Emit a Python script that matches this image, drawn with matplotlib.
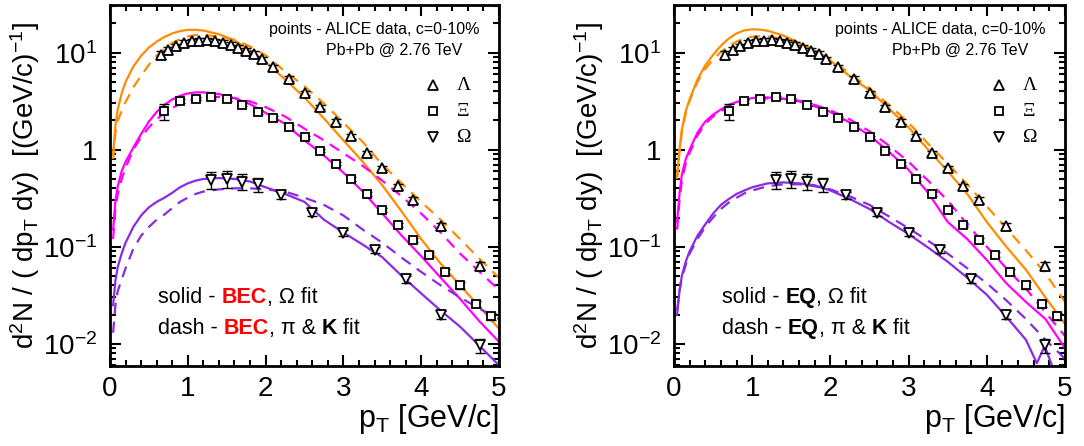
import matplotlib
matplotlib.use("Agg")
import matplotlib.pyplot as plt
from matplotlib.ticker import FixedLocator, FixedFormatter, LogLocator, NullFormatter, MultipleLocator

plt.rcParams['font.family'] = ['Liberation Sans', 'DejaVu Sans']
plt.rcParams['mathtext.fontset'] = 'custom'
plt.rcParams['mathtext.rm'] = 'Liberation Sans'
plt.rcParams['mathtext.it'] = 'Liberation Sans:italic'
plt.rcParams['mathtext.bf'] = 'Liberation Sans:bold'

# ---------------- data (ALICE points) ----------------
lam_x = [0.65, 0.75, 0.85, 0.95, 1.05, 1.15, 1.25, 1.35, 1.45, 1.55, 1.65, 1.75, 1.85, 1.95,
         2.1, 2.3, 2.5, 2.7, 2.9, 3.1, 3.3, 3.5, 3.7, 3.9, 4.25, 4.75]
lam_y = [9.5, 10.6, 11.6, 12.6, 13.1, 13.3, 13.4, 13.1, 12.6, 12.1, 11.2, 10.5, 9.8, 8.6,
         7.1, 5.4, 3.85, 2.75, 1.95, 1.37, 0.93, 0.65, 0.42, 0.305, 0.162, 0.063]
lam_err = [0.9, 0.8, 0.8, 0.8, 0.8, 0.8, 0.8, 0.8, 0.8, 0.7, 0.7, 0.6, 0.6, 0.5,
           0.4, 0.3, 0.2, 0.15, 0.1, 0.07, 0.05, 0.035, 0.025, 0.02, 0.012, 0.006]

xi_x = [0.7, 0.9, 1.1, 1.3, 1.5, 1.7, 1.9, 2.1, 2.3, 2.5, 2.7, 2.9, 3.1, 3.3, 3.5, 3.7,
        3.9, 4.1, 4.3, 4.5, 4.7, 4.9]
xi_y = [2.48, 3.15, 3.36, 3.46, 3.33, 2.91, 2.45, 2.12, 1.71, 1.35, 0.98, 0.72, 0.50, 0.35,
        0.24, 0.166, 0.118, 0.083, 0.055, 0.040, 0.0257, 0.0191]
xi_err = [0.45, 0.15, 0.12, 0.12, 0.12, 0.1, 0.09, 0.08, 0.07, 0.05, 0.04, 0.03, 0.02, 0.015,
          0.01, 0.008, 0.006, 0.005, 0.004, 0.003, 0.002, 0.0015]

om_x = [1.3, 1.5, 1.7, 1.9, 2.2, 2.6, 3.0, 3.4, 3.8, 4.25, 4.75]
om_y = [0.49, 0.50, 0.47, 0.44, 0.34, 0.222, 0.138, 0.093, 0.046, 0.0199, 0.0096]
om_err = [0.1, 0.1, 0.09, 0.07, 0.03, 0.015, 0.01, 0.006, 0.004, 0.002, 0.0015]

# ---------------- model curves ----------------
curve_x = [0.04, 0.07, 0.1, 0.15, 0.2, 0.3, 0.4, 0.5, 0.6, 0.7, 0.8, 0.9, 1.0, 1.1, 1.2,
           1.4, 1.6, 1.8, 2.0, 2.25, 2.5, 2.75, 3.0, 3.25, 3.5, 3.75, 4.0, 4.25, 4.5, 4.75, 5.0]

# left panel: BEC
bec_lam_solid = [0.9, 1.8, 2.6, 3.8, 5.0, 7.2, 9.3, 11.3, 13.0, 14.5, 15.8, 16.7, 17.2, 17.2, 16.9,
                 15.5, 13.4, 10.6, 8.0, 5.3, 3.45, 2.1, 1.25, 0.75, 0.43, 0.23, 0.12, 0.067, 0.04, 0.024, 0.0143]
bec_lam_dash = [0.8, 1.5, 2.0, 2.5, 3.1, 4.4, 5.8, 7.5, 9.3, 11.0, 12.6, 13.8, 14.7, 15.2, 15.3,
                14.6, 13.6, 11.6, 9.4, 6.4, 4.5, 3.0, 1.9, 1.2, 0.7, 0.45, 0.29, 0.19, 0.12, 0.075, 0.048]
bec_xi_solid = [0.15, 0.3, 0.42, 0.6, 0.75, 1.05, 1.45, 1.95, 2.45, 2.9, 3.3, 3.6, 3.8, 3.9, 3.9,
                3.75, 3.4, 2.95, 2.4, 1.85, 1.25, 0.87, 0.58, 0.37, 0.22, 0.13, 0.08, 0.048, 0.029, 0.017, 0.0105]
bec_xi_dash = [0.12, 0.25, 0.35, 0.5, 0.65, 1.0, 1.35, 1.7, 2.05, 2.4, 2.7, 2.95, 3.15, 3.35, 3.45,
               3.5, 3.4, 3.15, 2.75, 2.2, 1.65, 1.25, 0.92, 0.68, 0.48, 0.33, 0.22, 0.14, 0.085, 0.055, 0.036]
bec_om_solid = [0.025, 0.045, 0.062, 0.085, 0.11, 0.16, 0.21, 0.255, 0.29, 0.32, 0.36, 0.41, 0.45, 0.48, 0.5,
                0.51, 0.5, 0.47, 0.41, 0.35, 0.29, 0.19, 0.14, 0.105, 0.078, 0.05, 0.033, 0.022, 0.015, 0.0095, 0.006]
bec_om_dash = [0.013, 0.025, 0.035, 0.046, 0.06, 0.095, 0.13, 0.16, 0.19, 0.215, 0.25, 0.29, 0.32, 0.35, 0.37,
               0.39, 0.40, 0.40, 0.39, 0.37, 0.32, 0.27, 0.21, 0.15, 0.11, 0.077, 0.055, 0.04, 0.03, 0.023, 0.018]

# right panel: EQ
eq_lam_solid = [0.55, 1.0, 1.6, 2.5, 3.3, 5.3, 7.4, 9.5, 11.8, 14.0, 15.8, 17.0, 17.4, 17.3, 16.8,
                15.0, 12.6, 10.5, 8.3, 5.7, 4.1, 2.65, 1.7, 1.0, 0.6, 0.35, 0.18, 0.1, 0.058, 0.03, 0.016]
eq_lam_dash = [0.5, 0.95, 1.5, 2.4, 3.2, 5.0, 6.8, 8.5, 10.2, 11.7, 13.0, 14.0, 14.6, 14.8, 14.7,
               13.8, 12.2, 10.5, 8.5, 6.1, 4.3, 2.9, 1.9, 1.15, 0.72, 0.44, 0.26, 0.155, 0.092, 0.053, 0.027]
eq_xi_solid = [0.18, 0.35, 0.55, 0.8, 1.0, 1.5, 1.95, 2.3, 2.6, 2.9, 3.1, 3.3, 3.4, 3.45, 3.45,
               3.35, 3.15, 2.8, 2.45, 1.9, 1.4, 0.95, 0.62, 0.36, 0.18, 0.12, 0.073, 0.042, 0.027, 0.018, 0.009]
eq_xi_dash = [0.15, 0.3, 0.48, 0.72, 0.93, 1.4, 1.85, 2.2, 2.5, 2.75, 3.0, 3.15, 3.25, 3.35, 3.38,
              3.35, 3.2, 2.9, 2.55, 2.05, 1.55, 1.1, 0.75, 0.48, 0.3, 0.17, 0.1, 0.06, 0.037, 0.021, 0.012]
eq_om_solid_x = [0.04, 0.07, 0.1, 0.15, 0.2, 0.3, 0.4, 0.5, 0.6, 0.7, 0.8, 0.9, 1.0, 1.1, 1.2,
                 1.4, 1.6, 1.8, 2.0, 2.25, 2.5, 2.75, 3.0, 3.25, 3.5, 3.75, 4.0, 4.25, 4.5,
                 4.64, 4.74, 4.85, 5.0]
eq_om_solid = [0.02, 0.035, 0.05, 0.07, 0.09, 0.13, 0.17, 0.22, 0.27, 0.31, 0.35, 0.38, 0.41, 0.43, 0.45,
               0.46, 0.45, 0.43, 0.38, 0.31, 0.245, 0.18, 0.135, 0.098, 0.07, 0.048, 0.032, 0.019, 0.011,
               0.0063, 0.0095, 0.0055, 0.004]
eq_om_dash = [0.022, 0.035, 0.048, 0.065, 0.085, 0.12, 0.16, 0.2, 0.245, 0.285, 0.32, 0.355, 0.38, 0.4, 0.42,
              0.44, 0.44, 0.42, 0.39, 0.33, 0.27, 0.205, 0.155, 0.115, 0.085, 0.06, 0.042, 0.028, 0.018, 0.011, 0.007]

ytick_vals = [0.01, 0.1, 1, 10]
ytick_labels = ['$10^{-2}$', '$10^{-1}$', '1', '$10^{1}$']
xtick_vals = [0, 1, 2, 3, 4, 5]

C_LAM = '#ff8c00'
C_XI = '#ff00ff'
C_OM = '#8a2be2'

fig = plt.figure(figsize=(10.84, 4.46), dpi=100)
ax_l = fig.add_axes([110 / 1084, 1 - 366 / 446, 389 / 1084, 361 / 446])
ax_r = fig.add_axes([674 / 1084, 1 - 366 / 446, 391 / 1084, 361 / 446])


def rainbow(ax, x, y, pieces, fs):
    first = pieces[0]
    t = ax.text(x, y, first[0], transform=ax.transAxes, fontsize=fs, color=first[1],
                fontweight=first[2], va='center', ha='left')
    for s, c, w in pieces[1:]:
        t = ax.annotate(s, xy=(1, 0), xycoords=t, va='bottom', ha='left',
                        fontsize=fs, color=c, fontweight=w)


def panel(ax, curves, model_name, model_color):
    dash = (5, 3.5)
    lw = 1.6
    for xs, ys, col, dashed in curves:
        if dashed:
            ax.plot(xs, ys, color=col, lw=lw, dashes=dash)
        else:
            ax.plot(xs, ys, color=col, lw=lw)
    ekw = dict(fmt='none', ecolor='black', elinewidth=1.0, capsize=3.5, capthick=1.0, zorder=4)
    ax.errorbar(lam_x, lam_y, yerr=lam_err, **ekw)
    ax.errorbar(xi_x, xi_y, yerr=xi_err, **ekw)
    ax.errorbar(om_x, om_y, yerr=om_err, **ekw)
    mkw = dict(ls='none', mfc='white', mec='black', mew=1.3, zorder=5)
    ax.plot(lam_x, lam_y, marker='^', ms=7, **mkw)
    ax.plot(xi_x, xi_y, marker='s', ms=5.5, **mkw)
    ax.plot(om_x, om_y, marker='v', ms=7, **mkw)

    ax.set_yscale('log')
    ax.set_xlim(0, 5)
    ax.set_ylim(0.0059, 31)
    ax.yaxis.set_major_locator(FixedLocator(ytick_vals))
    ax.yaxis.set_major_formatter(FixedFormatter(ytick_labels))
    ax.yaxis.set_minor_locator(LogLocator(base=10, subs=range(2, 10)))
    ax.yaxis.set_minor_formatter(NullFormatter())
    ax.xaxis.set_major_locator(FixedLocator(xtick_vals))
    ax.xaxis.set_minor_locator(MultipleLocator(0.2))
    ax.tick_params(which='both', direction='in', top=True, right=True, width=1.5)
    ax.tick_params(which='major', length=8, labelsize=20)
    ax.tick_params(which='minor', length=4)
    ax.tick_params(axis='y', which='major', pad=9)
    ax.tick_params(axis='x', which='major', pad=7)
    for sp in ax.spines.values():
        sp.set_linewidth(2)

    ax.set_xlabel('p$_{\\mathrm{T}}$ [GeV/c]', fontsize=22, loc='right', labelpad=0)
    ax.set_ylabel('d$^{2}$N / ( dp$_{\\mathrm{T}}$ dy)  [(GeV/c)$^{-1}$]', fontsize=20, labelpad=1)

    ax.text(0.951, 0.931, 'points - ALICE data, c=0-10%', transform=ax.transAxes,
            ha='right', va='center', fontsize=11.5)
    ax.text(0.905, 0.875, 'Pb+Pb @ 2.76 TeV', transform=ax.transAxes,
            ha='right', va='center', fontsize=11.5)

    for mk, ms, yy, lab in [('^', 7, 0.778, 'Λ'), ('s', 5.5, 0.706, 'Ξ'), ('v', 7, 0.634, 'Ω')]:
        ax.plot([0.83], [yy], marker=mk, ms=ms, transform=ax.transAxes, ls='none',
                mfc='white', mec='black', mew=1.3, clip_on=False)
        ax.text(0.892, yy, lab, transform=ax.transAxes, ha='left', va='center',
                fontsize=14, family=['Liberation Serif', 'DejaVu Serif'])

    rainbow(ax, 0.123, 0.191, [('solid - ', 'black', 'normal'), (model_name, model_color, 'bold'),
                               (', Ω fit', 'black', 'normal')], 15.5)
    rainbow(ax, 0.123, 0.105, [('dash - ', 'black', 'normal'), (model_name, model_color, 'bold'),
                               (', π & ', 'black', 'normal'), ('K', 'black', 'bold'),
                               (' fit', 'black', 'normal')], 15.5)


panel(ax_l, [(curve_x, bec_lam_solid, C_LAM, False), (curve_x, bec_lam_dash, C_LAM, True),
             (curve_x, bec_xi_solid, C_XI, False), (curve_x, bec_xi_dash, C_XI, True),
             (curve_x, bec_om_solid, C_OM, False), (curve_x, bec_om_dash, C_OM, True)],
      'BEC', '#ff0000')
panel(ax_r, [(curve_x, eq_lam_solid, C_LAM, False), (curve_x, eq_lam_dash, C_LAM, True),
             (curve_x, eq_xi_solid, C_XI, False), (curve_x, eq_xi_dash, C_XI, True),
             (eq_om_solid_x, eq_om_solid, C_OM, False), (curve_x, eq_om_dash, C_OM, True)],
      'EQ', 'black')

fig.savefig('out.png', dpi=100)
